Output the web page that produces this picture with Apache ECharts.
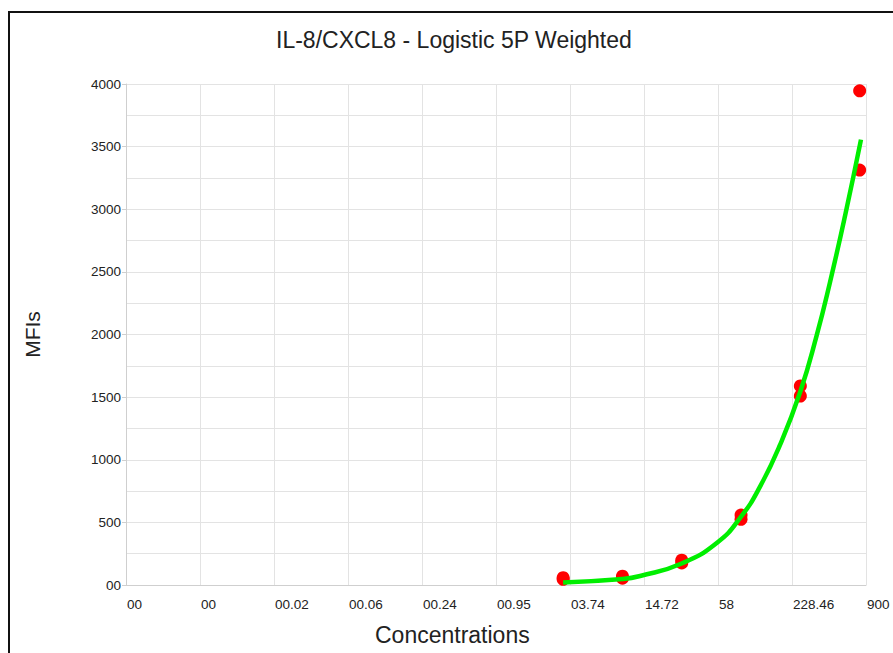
<!DOCTYPE html>
<html>
<head>
<meta charset="utf-8">
<script src="https://cdn.jsdelivr.net/npm/echarts@6/dist/echarts.min.js"></script>
<style>
  html, body { margin: 0; padding: 0; background: #fff; }
  #chart { position: absolute; left: 0; top: 0; width: 893px; height: 653px; }
  #frame { position: absolute; left: 8px; top: 11px; width: 900px; height: 700px;
           border-left: 2px solid #111; border-top: 2px solid #111; pointer-events: none; }
</style>
</head>
<body>
<div id="chart"></div>
<div id="frame"></div>
<script>
// Axis ticks (log scale from 0.001 to 900, 10 equal log steps)
const axisMinConc = 0.001;
const axisMaxConc = 900;
const xTickLabels = ["00", "00", "00.02", "00.06", "00.24", "00.95", "03.74", "14.72", "58", "228.46", "900"];

// Standards (3-fold dilutions, duplicates)
const stdConc = [800, 800, 266.67, 266.67, 88.89, 88.89, 29.63, 29.63, 9.877, 9.877, 3.292, 3.292];
const stdMFI  = [3946, 3313, 1589, 1509, 558, 524, 198, 176, 70, 54, 58, 45];

// Fitted 5PL curve
const curveConc = [3.29, 9.88, 13.7, 29.6, 57.3, 88.9, 126, 183, 266.7, 361, 462, 610, 820];
const curveMFI  = [20, 48, 72, 172, 340, 546, 783, 1119, 1545, 1993, 2418, 2946, 3556];

const yTickStep = 500;

// log-scale position in tick-index units (0..10)
const nSteps = xTickLabels.length - 1;
function xPos(c) {
  return nSteps * Math.log(c / axisMinConc) / Math.log(axisMaxConc / axisMinConc);
}

const chart = echarts.init(document.getElementById('chart'), null, { renderer: 'svg' });
const FONT = 'Liberation Sans, Arial, sans-serif';

chart.setOption({
  animation: false,
  backgroundColor: '#ffffff',
  title: {
    text: 'IL-8/CXCL8 - Logistic 5P Weighted',
    left: 271,
    top: 23,
    textStyle: { fontFamily: FONT, fontSize: 23, fontWeight: 'normal', color: '#222' }
  },
  grid: { left: 126, right: 27, top: 84, bottom: 68, containLabel: false },
  xAxis: {
    type: 'value',
    min: 0,
    max: nSteps,
    interval: 1,
    axisLine: { show: true, lineStyle: { color: '#cfcfcf', width: 1 } },
    axisTick: { show: false },
    splitLine: { show: true, lineStyle: { color: '#e3e3e3', width: 1 } },
    axisLabel: {
      show: true,
      align: 'left',
      margin: 12,
      padding: [0, 0, 0, 1],
      showMinLabel: true,
      showMaxLabel: true,
      fontFamily: FONT,
      fontSize: 13.5,
      color: '#222',
      formatter: function (v) { return xTickLabels[Math.round(v)]; }
    }
  },
  yAxis: {
    type: 'value',
    min: 0,
    max: 4000,
    interval: yTickStep,
    name: 'MFIs',
    nameLocation: 'middle',
    nameGap: 83,
    nameTextStyle: { fontFamily: FONT, fontSize: 21, color: '#222' },
    axisLine: { show: true, lineStyle: { color: '#cfcfcf', width: 1 } },
    axisTick: { show: true, length: 4, lineStyle: { color: '#cfcfcf' } },
    splitLine: { show: true, lineStyle: { color: '#e3e3e3', width: 1 } },
    minorTick: { show: false, splitNumber: 2 },
    minorSplitLine: { show: true, lineStyle: { color: '#e3e3e3', width: 1 } },
    axisLabel: {
      margin: 5,
      fontFamily: FONT,
      fontSize: 13.5,
      color: '#222',
      formatter: function (v) { return v === 0 ? '00' : String(v); }
    }
  },
  graphic: [{
    type: 'text',
    left: 375,
    top: 623,
    style: { text: 'Concentrations', font: '23px ' + FONT, fill: '#222' }
  }],
  series: [
    {
      type: 'scatter',
      name: 'Standards',
      symbol: 'circle',
      symbolSize: 13,
      itemStyle: { color: '#ff0000', opacity: 1 },
      z: 2,
      data: stdConc.map((c, i) => [xPos(c), stdMFI[i]])
    },
    {
      type: 'line',
      name: 'Fit',
      smooth: 0.5,
      showSymbol: false,
      lineStyle: { color: '#00ee00', width: 4.5 },
      z: 3,
      data: curveConc.map((c, i) => [xPos(c), curveMFI[i]])
    }
  ]
});
</script>
</body>
</html>
